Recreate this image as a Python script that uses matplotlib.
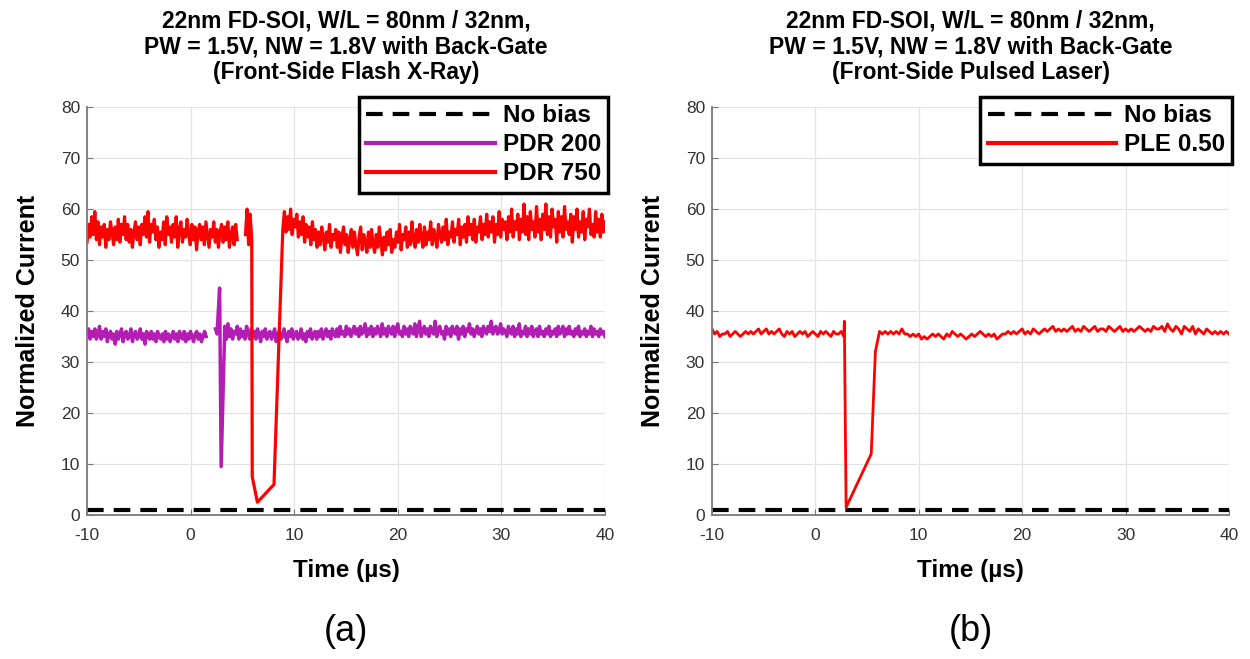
import numpy as np
import matplotlib
matplotlib.use('Agg')
from matplotlib import pyplot as plt

plt.rcParams['font.family'] = ['Liberation Sans', 'DejaVu Sans']
plt.rcParams['axes.unicode_minus'] = False

# ---- data ----
T_START, T_END = -10, 40
NO_BIAS_LEVEL = 1.0

# PDR 750 (front-side flash X-ray), red
pdr750_a_span = (-10.0, 4.5)
pdr750_a = [53.5, 57.0, 54.5, 58.5, 55.0, 59.5, 54.0, 57.5, 53.0, 56.5, 54.5, 57.0,
            52.5, 56.0, 54.0, 57.5, 55.5, 53.0, 56.5, 54.0, 58.0, 53.5, 57.0, 55.0,
            58.5, 54.0, 57.0, 53.5, 56.0, 52.5, 55.5, 57.5, 54.0, 56.5, 53.0, 57.0,
            55.0, 58.5, 54.5, 59.5, 53.5, 57.0, 55.5, 58.0, 54.0, 56.5, 52.5, 55.5,
            54.0, 57.5, 53.0, 58.5, 55.0, 56.5, 53.5, 57.0, 54.5, 58.5, 52.5, 56.0,
            57.5, 53.5, 56.0, 54.5, 58.0, 55.0, 53.0, 57.0, 54.0, 56.5, 52.0, 55.5,
            57.0, 54.0, 56.5, 53.0, 57.5, 55.0, 52.5, 56.0, 54.5, 57.5, 53.5, 56.0,
            52.5, 55.5, 57.0, 53.5, 56.5, 54.0, 57.5, 52.5, 55.0, 56.5, 53.0, 57.0,
            54.0]
pdr750_pulse_t = [5.3, 5.45, 5.6, 5.75, 5.9, 5.95, 6.45, 8.05, 8.9]
pdr750_pulse = [55.0, 60.0, 53.0, 59.0, 54.0, 7.5, 2.5, 6.0, 56.0]
pdr750_c_span = (8.9, 40.0)
pdr750_c = [56.0, 59.5, 55.5, 58.5, 56.0, 60.0, 55.0, 58.0, 56.5, 59.0, 54.5, 57.5,
            55.0, 58.5, 53.5, 57.0, 54.5, 56.5, 53.0, 57.5, 54.0, 56.0, 52.5, 55.5,
            53.0, 56.5, 54.5, 52.0, 55.5, 53.5, 57.0, 52.5, 55.0, 54.0, 56.0, 52.5,
            55.5, 51.5, 54.5, 56.5, 53.0, 55.0, 51.5, 54.0, 56.0, 52.5, 55.5, 53.0,
            51.0, 54.5, 56.5, 52.0, 55.0, 53.5, 51.5, 55.5, 52.5, 56.0, 53.0, 51.5,
            55.0, 52.5, 56.5, 53.5, 51.0, 54.5, 52.0, 55.5, 53.0, 56.0, 51.5, 54.0,
            52.5, 55.5, 53.5, 57.0, 52.0, 55.0, 54.0, 56.5, 52.5, 55.5, 53.0, 57.5,
            54.0, 52.5, 56.0, 53.5, 57.0, 54.5, 52.5, 56.5, 53.0, 55.5, 54.0, 57.5,
            53.0, 56.0, 54.5, 52.5, 57.0, 55.0, 53.5, 56.5, 54.0, 58.0, 53.0, 55.5,
            54.5, 57.5, 53.5, 56.0, 55.0, 58.0, 53.0, 56.5, 54.5, 57.0, 53.5, 58.5,
            55.0, 57.0, 54.0, 58.0, 53.5, 56.5, 55.5, 58.5, 54.0, 57.0, 55.0, 59.0,
            54.5, 57.5, 55.5, 58.5, 53.5, 57.0, 55.0, 59.5, 54.5, 58.0, 56.0, 57.5,
            54.0, 58.5, 55.5, 60.0, 54.5, 57.5, 56.0, 59.0, 54.0, 58.0, 55.5, 61.0,
            55.0, 58.5, 54.0, 59.5, 56.0, 57.5, 54.5, 60.5, 55.5, 58.0, 54.0, 59.0,
            56.0, 61.0, 55.0, 58.5, 54.5, 60.0, 56.5, 58.0, 53.5, 59.5, 55.5, 58.5,
            54.5, 60.5, 56.0, 57.5, 55.0, 59.0, 53.5, 58.5, 56.0, 60.0, 54.5, 57.5,
            55.5, 59.5, 54.0, 58.0, 56.5, 60.0, 55.0, 57.0, 54.5, 59.5, 55.5, 58.0,
            54.5, 59.0, 55.5, 57.5]

# PDR 200, purple
pdr200_a_span = (-10.0, 1.5)
pdr200_a = [35.5, 36.5, 34.5, 36.0, 35.0, 36.5, 34.5, 35.5, 37.0, 34.5, 36.0, 35.0,
            36.5, 34.0, 35.5, 36.0, 34.5, 35.5, 33.5, 36.0, 34.5, 35.5, 36.5, 34.0,
            35.5, 36.0, 34.5, 35.0, 36.5, 34.0, 35.5, 36.0, 34.5, 35.0, 36.5, 34.5,
            35.5, 33.5, 36.0, 35.0, 34.5, 36.0, 34.5, 35.5, 34.0, 36.0, 35.0, 34.5,
            35.5, 34.0, 36.0, 34.5, 35.5, 34.0, 35.0, 36.0, 34.5, 35.5, 34.0, 36.0,
            35.0, 34.5, 36.0, 34.0, 35.5, 34.5, 36.0, 35.0, 34.0, 35.5, 36.0, 34.5,
            35.5, 34.0, 35.0, 36.0, 35.0]
pdr200_pulse_t = [2.4, 2.55, 2.8, 2.95, 3.3]
pdr200_pulse = [36.5, 35.5, 44.5, 9.5, 37.0]
pdr200_c_span = (3.3, 40.0)
pdr200_c = [37.0, 34.5, 37.5, 35.0, 36.5, 34.5, 36.0, 35.5, 37.0, 34.5, 36.5, 35.0,
            36.0, 34.5, 37.0, 35.5, 34.5, 36.5, 35.0, 36.0, 34.5, 36.5, 35.5, 34.0,
            36.0, 35.0, 36.5, 34.5, 35.5, 36.0, 34.5, 35.5, 36.5, 34.0, 35.5, 36.0,
            34.5, 35.0, 36.5, 35.0, 34.0, 36.0, 35.0, 36.5, 34.5, 35.5, 36.0, 34.5,
            35.0, 36.5, 34.5, 35.5, 34.0, 36.0, 35.0, 36.5, 34.5, 35.5, 36.0, 34.5,
            36.0, 35.0, 36.5, 34.5, 35.5, 36.5, 35.0, 36.0, 34.5, 36.5, 35.5, 35.0,
            36.5, 35.0, 37.0, 35.5, 36.0, 35.0, 37.0, 35.5, 36.5, 35.0, 36.0, 37.0,
            35.5, 36.5, 35.0, 37.0, 35.5, 36.0, 37.5, 35.0, 36.5, 35.5, 37.0, 35.0,
            36.5, 35.5, 37.0, 36.0, 35.0, 37.5, 35.5, 36.5, 35.0, 37.0, 36.0, 35.5,
            37.0, 35.0, 36.5, 37.5, 35.5, 36.0, 35.0, 37.0, 35.5, 36.5, 35.0, 37.0,
            36.0, 35.5, 37.5, 35.0, 36.5, 38.0, 35.0, 36.0, 37.0, 35.5, 36.5, 35.0,
            37.0, 36.0, 35.5, 38.0, 35.0, 36.5, 37.0, 35.5, 36.0, 34.5, 37.0, 35.5,
            36.5, 35.0, 37.0, 36.0, 35.5, 37.0, 34.5, 36.5, 35.5, 37.0, 35.0, 36.5,
            36.0, 37.5, 35.5, 36.5, 35.0, 36.0, 37.0, 35.5, 36.5, 35.0, 37.0, 36.0,
            35.5, 37.0, 36.0, 38.0, 35.5, 36.5, 37.0, 35.5, 36.0, 37.5, 35.5, 36.5,
            36.0, 35.0, 37.0, 36.0, 35.5, 37.0, 35.0, 36.5, 35.5, 37.5, 35.0, 36.0,
            35.5, 37.0, 35.0, 36.5, 35.5, 37.0, 35.0, 36.0, 36.5, 35.0, 37.0, 35.5,
            36.0, 35.0, 36.5, 35.5, 37.0, 35.0, 36.0, 35.5, 36.5, 35.0, 37.0, 35.5,
            36.0, 37.0, 35.0, 36.5, 35.5, 37.0, 35.5, 36.0, 35.0, 36.5, 35.5, 37.0,
            35.0, 36.0, 35.5, 36.5, 35.0, 36.0, 35.5, 37.0, 35.0, 36.5, 35.5, 36.0,
            35.0, 36.5, 35.5, 36.0, 35.0]

# PLE 0.50 (front-side pulsed laser), red
ple_a_span = (-10.0, 2.75)
ple_a = [36.5, 35.5, 36.0, 35.0, 35.5, 35.5, 36.0, 35.0, 35.5, 36.0,
         35.5, 35.0, 35.5, 36.0, 35.5, 36.0, 35.5, 36.0, 36.5, 35.5,
         36.0, 36.5, 35.5, 36.0, 35.5, 36.0, 36.5, 35.5, 35.0, 36.0,
         35.5, 36.0, 35.0, 35.5, 36.0, 35.5, 36.0, 35.0, 35.5, 36.0,
         35.5, 35.0, 36.0, 35.5, 36.0, 35.5, 35.0, 36.0, 35.5, 35.5,
         36.0, 35.0]
ple_pulse_t = [2.8, 2.97, 5.4, 5.8, 6.2]
ple_pulse = [38.0, 1.5, 12.0, 32.0, 36.0]
ple_c_span = (6.2, 40.0)
ple_c = [36.0, 35.5, 36.0, 35.5, 36.0, 35.5, 36.0, 35.5, 36.5, 35.5,
         35.5, 35.0, 35.5, 35.0, 35.5, 34.5, 35.0, 34.5, 35.0, 35.5,
         35.0, 35.5, 35.0, 34.5, 35.5, 35.0, 36.0, 35.5, 35.0, 35.5,
         35.0, 34.5, 35.0, 35.5, 35.0, 35.5, 36.0, 35.5, 35.0, 35.5,
         35.0, 35.5, 34.5, 35.0, 35.5, 35.5, 36.0, 35.5, 36.0, 35.5,
         36.0, 36.5, 35.5, 36.0, 35.5, 36.5, 36.0, 35.5, 36.0, 36.5,
         36.0, 36.5, 37.0, 36.0, 36.5, 36.0, 36.5, 36.0, 36.5, 37.0,
         36.0, 36.5, 36.0, 37.0, 36.5, 36.0, 36.5, 37.0, 36.0, 36.5,
         36.5, 36.0, 37.0, 36.5, 36.0, 36.5, 37.0, 36.0, 36.5, 36.0,
         36.5, 36.0, 36.5, 37.0, 36.5, 36.0, 36.5, 36.0, 37.0, 36.5,
         36.5, 37.0, 36.0, 37.5, 36.5, 36.0, 37.0, 36.5, 35.5, 37.0,
         36.5, 36.0, 37.0, 35.5, 36.5, 36.0, 35.5, 36.5, 36.0, 35.5,
         36.0, 35.5, 36.0, 35.5, 36.0, 35.5]

titles = ['22nm FD-SOI, W/L = 80nm / 32nm,\nPW = 1.5V, NW = 1.8V with Back-Gate\n(Front-Side Flash X-Ray)',
          '22nm FD-SOI, W/L = 80nm / 32nm,\nPW = 1.5V, NW = 1.8V with Back-Gate\n(Front-Side Pulsed Laser)']
panel_tags = ['(a)', '(b)']

RED = '#ff0000'
PURPLE = '#b31db3'


def build_trace(a_span, a_vals, pulse_t, pulse_vals, c_span, c_vals, gap=True):
    ta = np.linspace(a_span[0], a_span[1], len(a_vals))
    tc = np.linspace(c_span[0], c_span[1], len(c_vals))
    parts_t = [ta]
    parts_y = [np.asarray(a_vals)]
    if gap:
        parts_t.append([np.nan])
        parts_y.append([np.nan])
    parts_t += [pulse_t, tc]
    parts_y += [pulse_vals, c_vals]
    return np.concatenate(parts_t), np.concatenate(parts_y)


def style_axes(ax):
    ax.set_xlim(T_START, T_END)
    ax.set_ylim(0, 80)
    ax.set_xticks(range(-10, 41, 10))
    ax.set_yticks(range(0, 81, 10))
    ax.grid(True, color='#e3e3e3', lw=0.9)
    ax.set_axisbelow(True)
    for s in ['top', 'right']:
        ax.spines[s].set_visible(False)
    for s in ['left', 'bottom']:
        ax.spines[s].set_color('#7a7a7a')
        ax.spines[s].set_linewidth(1.3)
    ax.tick_params(direction='in', length=4, colors='#7a7a7a',
                   labelcolor='#333333', labelsize=12.5)
    ax.tick_params(axis='x', pad=9)
    ax.tick_params(axis='y', pad=5)
    ax.set_xlabel('Time (\u00b5s)', fontsize=17.5, fontweight='bold', labelpad=12)
    ax.set_ylabel('Normalized Current', fontsize=18, fontweight='bold', labelpad=15)


fig = plt.figure(figsize=(12.5, 6.59), dpi=100)
axL = fig.add_axes([0.0696, 0.2185, 0.4144, 0.619])
axR = fig.add_axes([0.5696, 0.2185, 0.4136, 0.619])

t750, y750 = build_trace(pdr750_a_span, pdr750_a, pdr750_pulse_t, pdr750_pulse,
                         pdr750_c_span, pdr750_c)
t200, y200 = build_trace(pdr200_a_span, pdr200_a, pdr200_pulse_t, pdr200_pulse,
                         pdr200_c_span, pdr200_c)
tple, yple = build_trace(ple_a_span, ple_a, ple_pulse_t, ple_pulse,
                         ple_c_span, ple_c, gap=False)

dash = (0, (4, 2.4))
axL.plot([T_START, T_END], [NO_BIAS_LEVEL] * 2, color='black', lw=3, ls=dash, label='No bias')
axL.plot(t200, y200, color=PURPLE, lw=2.5, label='PDR 200')
axL.plot(t750, y750, color=RED, lw=2.3, label='PDR 750')

axR.plot([T_START, T_END], [NO_BIAS_LEVEL] * 2, color='black', lw=3, ls=dash, label='No bias')
axR.plot(tple, yple, color=RED, lw=2.0, label='PLE 0.50')

for ax, title, tag in zip([axL, axR], titles, panel_tags):
    style_axes(ax)
    ax.set_title(title, fontsize=16.5, fontweight='bold', pad=20, linespacing=1.16)
    leg = ax.legend(loc='upper right', bbox_to_anchor=(1.006, 1.025), borderaxespad=0,
                    fancybox=False, edgecolor='black', framealpha=1,
                    prop={'weight': 'bold', 'size': 17.5}, handlelength=5.3,
                    handletextpad=0.3, borderpad=0.3, labelspacing=0.25)
    leg.get_frame().set_linewidth(2.5)
    for h in leg.get_lines():
        h.set_linewidth(3)
    pos = ax.get_position()
    fig.text(pos.x0 + pos.width / 2, 0.041, tag, ha='center', va='center', fontsize=26)

fig.savefig('out.png', dpi=100)
